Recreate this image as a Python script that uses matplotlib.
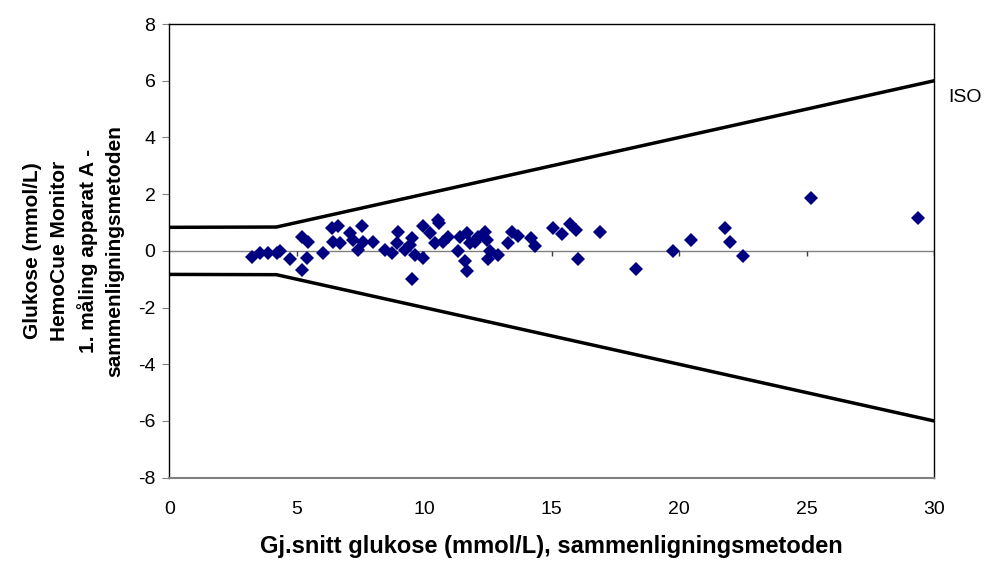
import numpy as np
import matplotlib.pyplot as plt

plt.rcParams['font.family'] = ['Liberation Sans', 'DejaVu Sans']
plt.rcParams['axes.unicode_minus'] = False

# gjennomsnitt glukose (x) og differanse (y)
snitt = [3.23, 3.56, 3.88, 4.21, 4.34, 4.73, 5.19, 5.45, 5.41, 5.19,
         6.04, 6.37, 6.63, 6.43, 6.70, 7.08, 7.54, 7.41, 7.22, 7.60,
         8.00, 8.46, 8.72, 8.98, 8.92, 9.24, 9.50, 9.44, 9.50, 9.64,
         9.94, 9.94, 10.23, 10.54, 10.57, 10.41, 10.74, 10.94, 11.33, 11.40,
         11.66, 11.59, 11.66, 11.79, 12.12, 11.99, 12.38, 12.44, 12.57, 12.51,
         12.90, 13.29, 13.43, 13.69, 14.20, 14.33, 15.03, 15.42, 15.71, 15.95,
         16.04, 16.89, 18.32, 19.76, 20.45, 21.81, 21.98, 22.51, 25.18, 29.38]
diff = [-0.22, -0.08, -0.06, -0.06, 0.0, -0.30, 0.48, 0.33, -0.24, -0.68,
        -0.07, 0.80, 0.88, 0.33, 0.28, 0.62, 0.88, 0.04, 0.39, 0.30,
        0.33, 0.02, -0.08, 0.68, 0.28, 0.04, 0.45, 0.22, -1.0, -0.14,
        -0.25, 0.88, 0.62, 1.10, 0.98, 0.28, 0.33, 0.50, -0.02, 0.50,
        0.62, -0.37, -0.72, 0.28, 0.50, 0.33, 0.68, 0.39, -0.02, -0.30,
        -0.14, 0.28, 0.66, 0.53, 0.45, 0.18, 0.80, 0.60, 0.95, 0.74,
        -0.29, 0.66, -0.64, -0.02, 0.39, 0.80, 0.33, -0.17, 1.88, 1.15]

# ISO-grenser: +/-0.83 under 4.2 mmol/L, +/-20 % over
iso_x = [0, 4.2, 30]
iso_y = [0.83, 0.84, 6.0]

xticks = [0, 5, 10, 15, 20, 25, 30]
yticks = [-8, -6, -4, -2, 0, 2, 4, 6, 8]

fig = plt.figure(figsize=(9.87, 5.65), dpi=100)
ax = fig.add_axes([0.1715, 0.1545, 0.7751, 0.803])

ax.axhline(0, color='#808080', lw=1, zorder=1)
ax.vlines(xticks[1:], -0.18, 0, color='#404040', lw=1, zorder=1)

ax.plot(iso_x, iso_y, color='black', lw=2.5, zorder=2, solid_capstyle='butt')
ax.plot(iso_x, [-v for v in iso_y], color='black', lw=2.5, zorder=2, solid_capstyle='butt')

ax.plot(snitt, diff, 'D', color='#000080', markersize=7.4, markeredgewidth=0, zorder=3)

ax.text(30.54, 5.41, 'ISO', fontsize=14, va='center', ha='left')

ax.set_xlim(0, 30)
ax.set_ylim(-8, 8)
ax.set_xticks(xticks)
ax.set_yticks(yticks)
ax.tick_params(axis='x', length=0, pad=17, labelsize=14)
ax.tick_params(axis='y', length=5, color='#808080', pad=5, labelsize=14)

for s in ['left', 'top', 'right']:
    ax.spines[s].set_color('black')
    ax.spines[s].set_linewidth(1)
ax.spines['bottom'].set_color('#808080')
ax.spines['bottom'].set_linewidth(1.5)

ax.set_xlabel('Gj.snitt glukose (mmol/L), sammenligningsmetoden',
              fontsize=17, fontweight='bold', labelpad=12)
ax.set_ylabel('Glukose (mmol/L)\nHemoCue Monitor\n1. måling apparat A -\nsammenligningsmetoden',
              fontsize=15, fontweight='bold', linespacing=1.48, labelpad=10)

fig.savefig('out.png', dpi=100)
